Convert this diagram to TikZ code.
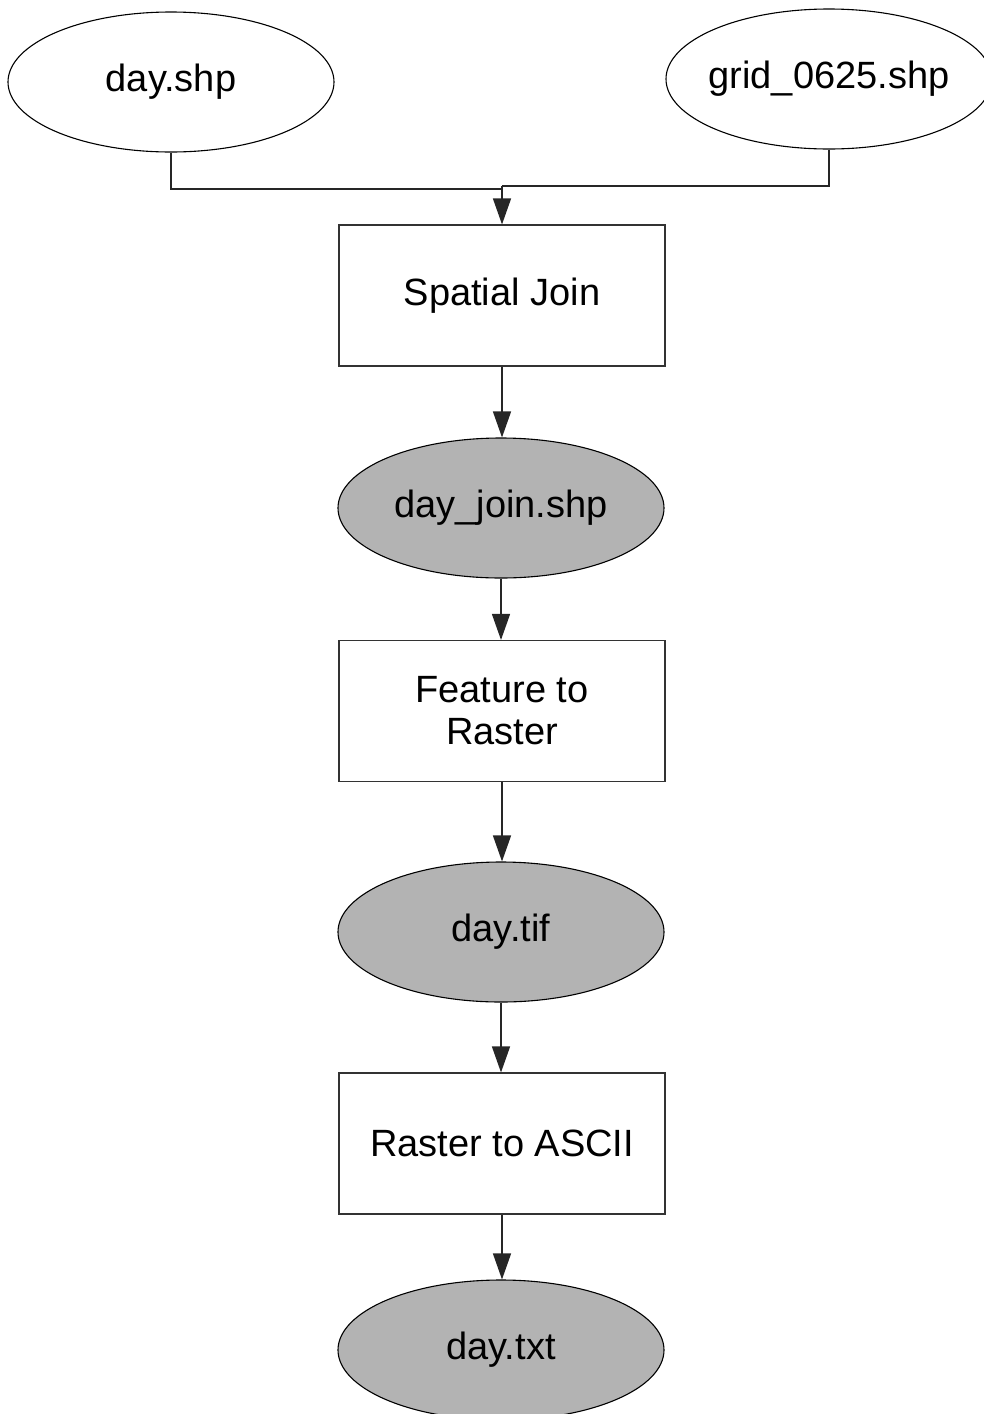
\documentclass[tikz,border=0pt]{standalone}
\usepackage{fontspec}
\setmainfont{Liberation Sans}
\usetikzlibrary{shapes.geometric,arrows.meta}
\definecolor{fillgray}{RGB}{179,179,179}
\begin{document}
\begin{tikzpicture}[x=1pt,y=-1pt,
  font=\fontsize{38}{42}\selectfont,
  databox/.style={ellipse,draw=black,line width=1.1pt,minimum width=326pt,minimum height=140pt,inner xsep=-15pt,inner ysep=0pt},
  outbox/.style={databox,fill=fillgray},
  procbox/.style={rectangle,draw=black!80,line width=1.1pt,minimum width=326pt,minimum height=141pt,inner sep=0pt,align=center},
  link/.style={draw=black!85,line width=1.3pt},
  arr/.style={link,-{Triangle[width=18pt,length=26pt]}}]
\useasboundingbox (0,0) rectangle (984,1414);
\node[databox] (d) at (171,82) {day.shp};
\node[databox] (g) at (829,79) {grid\_0625.shp};
\node[procbox] (sj) at (502,295.5) {Spatial Join};
\node[outbox] (dj) at (501,508) {day\_join.shp};
\node[procbox] (fr) at (502,711) {Feature to\\Raster};
\node[outbox] (dt) at (501,932) {day.tif};
\node[procbox] (ra) at (502,1143.5) {Raster to ASCII};
\node[outbox] (dx) at (501,1350) {day.txt};
\coordinate (j1) at (502,189);
\coordinate (j2) at (502,186);
\draw[link] (d.south) |- (j1);
\draw[link] (g.south) |- (j2);
\draw[arr] (j2) -- (sj.north);
\draw[arr] (sj.south) -- (sj.south |- dj.north);
\draw[arr] (dj.south) -- (dj.south |- fr.north);
\draw[arr] (fr.south) -- (fr.south |- dt.north);
\draw[arr] (dt.south) -- (dt.south |- ra.north);
\draw[arr] (ra.south) -- (ra.south |- dx.north);
\end{tikzpicture}
\end{document}
